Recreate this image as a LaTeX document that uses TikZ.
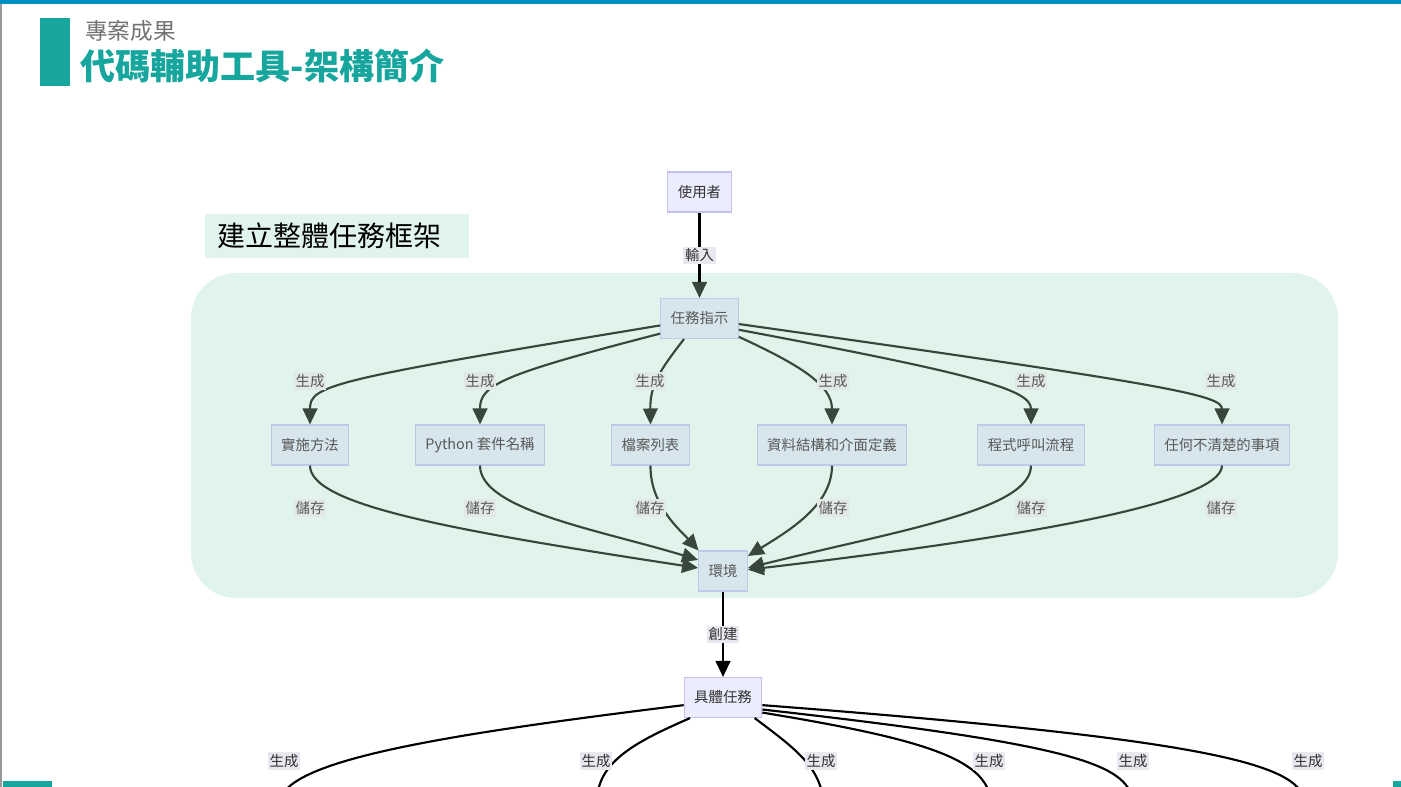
\documentclass[tikz,border=0pt]{standalone}
\usepackage{fontspec}
\setmainfont{Noto Sans CJK TC}
\usetikzlibrary{arrows.meta,positioning}

\definecolor{topbar}{RGB}{0,140,196}
\definecolor{brand}{RGB}{22,166,158}
\definecolor{mint}{RGB}{224,244,236}
\definecolor{innerfill}{RGB}{214,230,236}
\definecolor{innerline}{RGB}{186,202,232}
\definecolor{outerfill}{RGB}{236,236,255}
\definecolor{outerline}{RGB}{196,192,240}
\definecolor{edgec}{RGB}{55,71,62}
\definecolor{labelbg}{RGB}{226,233,229}
\definecolor{labelbgout}{RGB}{232,232,238}

\begin{document}
\begin{tikzpicture}[x=0.75pt,y=-0.75pt,
  inner/.style={draw=innerline, fill=innerfill, line width=0.8pt, minimum height=30pt, inner xsep=7.5pt, text=black!65, font=\fontsize{10.8}{12}\selectfont},
  outer/.style={draw=outerline, fill=outerfill, line width=0.8pt, minimum height=30pt, inner xsep=7.5pt, text=black!80, font=\fontsize{10.8}{12}\selectfont},
  elabel/.style={fill=labelbg, inner sep=1.5pt, text=black!65, font=\fontsize{10.8}{12}\selectfont},
  olabel/.style={fill=labelbgout, inner sep=1.5pt, text=black!80, font=\fontsize{10.8}{12}\selectfont},
  flow/.style={draw=edgec, line width=1.6pt, -{Triangle[length=12pt,width=11pt]}},
  plain/.style={draw=black, line width=1.6pt}
]
\useasboundingbox (0,0) rectangle (1401,787);

% header
\fill[topbar] (0,0) rectangle (1401,4);
\fill[black!40] (0,4) rectangle (1.5,787);
\fill[brand] (40,18) rectangle (70,86);
\node[anchor=west, inner sep=0pt, text=black!55, font=\fontsize{17}{20}\selectfont] (section) at (85,31) {專案成果};
\node[anchor=west, inner sep=0pt, text=brand, font=\bfseries\fontsize{26.3}{30}\selectfont] (title) at (80,66) {代碼輔助工具-架構簡介};
\fill[brand] (3,781) rectangle (52,787);
\fill[brand] (1393,781) rectangle (1401,787);

% subgraph
\fill[mint, rounded corners=34pt] (191,273) rectangle (1338,598);
\node[fill=mint, anchor=west, inner xsep=9pt, text width=180pt, minimum height=33pt, align=left, font=\fontsize{21}{24}\selectfont] (frametitle) at (205,236) {建立整體任務框架};

% nodes
\node[outer] (user) at (699.5,192) {使用者};
\node[inner] (task) at (699.5,318.5) {任務指示};
\node[inner] (impl) at (310,445) {實施方法};
\node[inner] (pkg) at (480,445) {Python 套件名稱};
\node[inner] (files) at (650.5,445) {檔案列表};
\node[inner] (datadef) at (832,445) {資料結構和介面定義};
\node[inner] (callflow) at (1031,445) {程式呼叫流程};
\node[inner] (unclear) at (1222,445) {任何不清楚的事項};
\node[inner] (env) at (723,571) {環境};
\node[outer] (subtask) at (723,697.5) {具體任務};

% edges
\draw[plain, -{Triangle[length=12pt,width=11pt,color=edgec]}] (user) -- node[olabel] (linput) {輸入} (task);

\draw[flow] (task.190) .. controls (330,380) and (310,385) .. (impl.north);
\draw[flow] (task.201) .. controls (500,375) and (480,385) .. (pkg.north);
\draw[flow] (task.233) .. controls (660,370) and (650,385) .. (files.north);
\draw[flow] (task.335) .. controls (800,365) and (832,385) .. (datadef.north);
\draw[flow] (task.344) .. controls (980,375) and (1031,390) .. (callflow.north);
\draw[flow] (task.352) .. controls (1170,385) and (1222,395) .. (unclear.north);

\draw[flow] (impl.south) .. controls (310,505) and (450,530) .. (env.173);
\draw[flow] (pkg.south) .. controls (480,510) and (600,530) .. (env.156);
\draw[flow] (files.south) .. controls (650,505) and (680,530) .. (env.140);
\draw[flow] (datadef.south) .. controls (832,505) and (790,530) .. (env.31);
\draw[flow] (callflow.south) .. controls (1031,510) and (900,530) .. (env.7);
\draw[flow] (unclear.south) .. controls (1222,505) and (1000,540) .. (env.3);

\draw[plain, -{Triangle[length=12pt,width=11pt]}] (env) -- node[olabel] (lcreate) {創建} (subtask);

\coordinate (out1) at (280,800);
\coordinate (out2) at (597,800);
\coordinate (out3) at (823,800);
\coordinate (out4) at (991,800);
\coordinate (out5) at (1133,800);
\coordinate (out6) at (1305,800);
\begin{scope}
\clip (0,0) rectangle (1401,787);
\draw[plain] (subtask.191) .. controls (440,735) and (290,760) .. (out1);
\draw[plain] (subtask.212) .. controls (640,740) and (598,760) .. (out2);
\draw[plain] (subtask.327) .. controls (790,745) and (820,765) .. (out3);
\draw[plain] (subtask.339) .. controls (930,740) and (985,760) .. (out4);
\draw[plain] (subtask.343) .. controls (1080,745) and (1125,765) .. (out5);
\draw[plain] (subtask.349) .. controls (1220,740) and (1295,765) .. (out6);
\end{scope}

% edge labels
\node[elabel] (gen1) at (310,381) {生成};
\node[elabel] (gen2) at (480,381) {生成};
\node[elabel] (gen3) at (650,381) {生成};
\node[elabel] (gen4) at (833,381) {生成};
\node[elabel] (gen5) at (1031,381) {生成};
\node[elabel] (gen6) at (1221,381) {生成};
\node[elabel] (save1) at (310,508) {儲存};
\node[elabel] (save2) at (480,508) {儲存};
\node[elabel] (save3) at (650,508) {儲存};
\node[elabel] (save4) at (833,508) {儲存};
\node[elabel] (save5) at (1031,508) {儲存};
\node[elabel] (save6) at (1221,508) {儲存};
\node[olabel] (bgen1) at (284,761) {生成};
\node[olabel] (bgen2) at (596,761) {生成};
\node[olabel] (bgen3) at (821,761) {生成};
\node[olabel] (bgen4) at (989,761) {生成};
\node[olabel] (bgen5) at (1133,761) {生成};
\node[olabel] (bgen6) at (1308,761) {生成};
\end{tikzpicture}
\end{document}
